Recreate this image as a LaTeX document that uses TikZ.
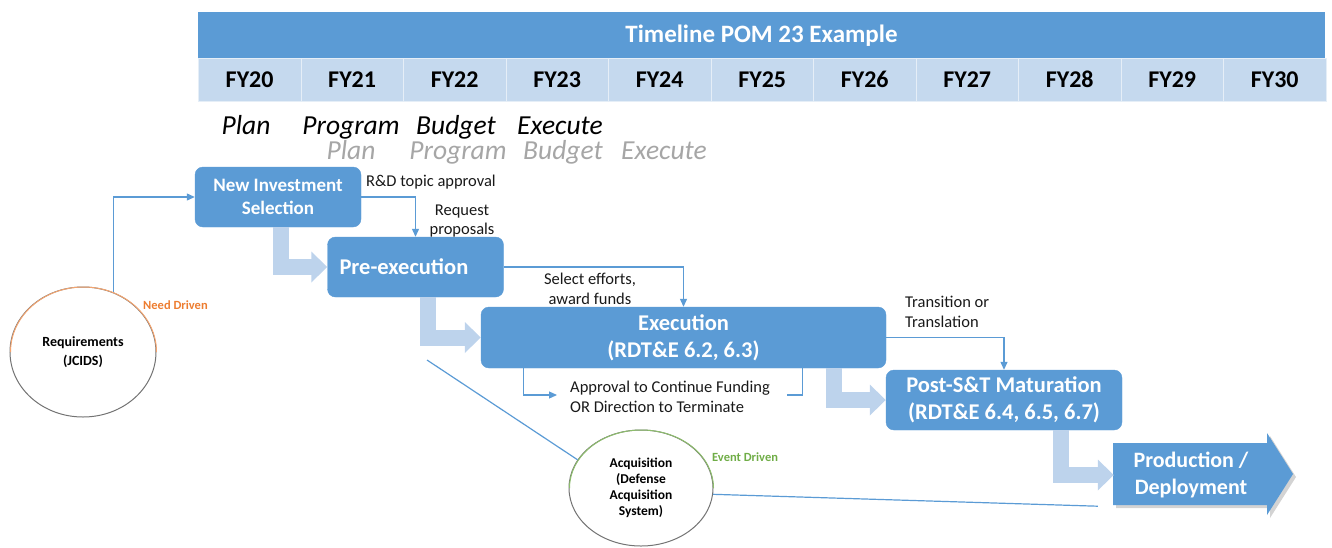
\documentclass[tikz,border=0pt]{standalone}
\usepackage{fontspec}
\setmainfont{Carlito}
\usetikzlibrary{arrows.meta,shadows,shapes.geometric}
\definecolor{mblue}{HTML}{5B9BD5}
\definecolor{lrow}{HTML}{C5D9EE}
\definecolor{lbent}{HTML}{BDD3EC}
\definecolor{gtext}{HTML}{A6A6A6}
\definecolor{ored}{HTML}{ED7D31}
\definecolor{grn}{HTML}{70AD47}
\begin{document}
\begin{tikzpicture}[x=1pt,y=-1pt,
  box/.style={fill=mblue, draw=mblue, rounded corners=8pt, text=white, inner sep=0pt, align=center},
  fycell/.style={fill=lrow, draw=white!55!lrow, line width=0.8pt, anchor=north west, minimum width=102.5, minimum height=43, inner sep=0pt, text height=16pt, text depth=0pt, font=\bfseries\fontsize{24}{28}\selectfont},
  conn/.style={draw=mblue, line width=1.2pt, -{Triangle[length=8pt,width=7pt]}},
  plain/.style={draw=mblue, line width=1.2pt},
  bent/.style={draw=lbent, line width=16pt, line join=miter, -{Triangle[length=16pt,width=30pt]}},
  lbl/.style={font=\fontsize{16.5}{19.5}\selectfont, text=black!90, inner sep=0pt},
  phase/.style={font=\itshape\fontsize{27.5}{32}\selectfont, inner sep=0pt, anchor=base},
  ell/.style={ellipse, draw=black!55, line width=1pt, inner sep=0pt, align=center, fill=white}
]
\useasboundingbox (0,0) rectangle (1332,547);

% header
\node[fill=mblue, anchor=north west, minimum width=1127, minimum height=46, inner sep=0pt] (band) at (198,12) {};
\node[text=white, font=\bfseries\fontsize{25}{29}\selectfont, inner sep=0pt] (title) at (761.5,36) {Timeline POM 23 Example};
\foreach \i/\t in {0/FY20,1/FY21,2/FY22,3/FY23,4/FY24,5/FY25,6/FY26,7/FY27,8/FY28,9/FY29,10/FY30}
  \node[fycell] (fy\i) at (198+102.5*\i,58) {\t};

% phases
\node[phase] (p1) at (246,134) {Plan};
\node[phase] (p2) at (351,134) {Program};
\node[phase] (p3) at (456,134) {Budget};
\node[phase] (p4) at (560,134) {Execute};
\node[phase, text=gtext] (g1) at (351,159) {Plan};
\node[phase, text=gtext] (g2) at (458,159) {Program};
\node[phase, text=gtext] (g3) at (563,159) {Budget};
\node[phase, text=gtext] (g4) at (664,159) {Execute};

% boxes
\node[box, minimum width=166, minimum height=60, font=\bfseries\fontsize{19}{23}\selectfont] (nis) at (278,197) {New Investment\\Selection};
\node[box, minimum width=176, minimum height=60, text width=152, align=left, font=\bfseries\fontsize{22.5}{26}\selectfont] (pre) at (415.5,267) {Pre-execution};
\node[box, minimum width=405, minimum height=61, font=\bfseries\fontsize{22.5}{27}\selectfont] (exec) at (683.5,337.5) {Execution\\(RDT\&E 6.2, 6.3)};
\node[box, minimum width=236, minimum height=60, font=\bfseries\fontsize{22.5}{27}\selectfont] (post) at (1004,400) {Post-S\&T Maturation\\(RDT\&E 6.4, 6.5, 6.7)};

% production arrow
\fill[mblue, drop shadow={shadow xshift=3pt,shadow yshift=-3pt,opacity=0.35}]
  (1113,443) -- (1267,443) -- (1267,433) -- (1293,474) -- (1267,515) -- (1267,505) -- (1113,505) -- cycle;
\node[text=white, align=center, minimum width=154, minimum height=62, inner sep=0pt, font=\bfseries\fontsize{22}{27}\selectfont] (prod) at (1191,475) {Production /\\Deployment};

% ellipses
\node[ell, minimum width=146, minimum height=130, font=\bfseries\fontsize{14}{19}\selectfont] (req) at (83,352) {Requirements\\(JCIDS)};
\draw[ored!70, line width=1pt] (req.east) arc[start angle=0, end angle=-180, x radius=73, y radius=65];
\node[ell, minimum width=144, minimum height=116, font=\bfseries\fontsize{13.5}{16}\selectfont] (acq) at (641,488) {Acquisition\\(Defense\\Acquisition\\System)};
\draw[grn!80, line width=1pt] (acq.east) arc[start angle=0, end angle=-180, x radius=72, y radius=58];

\node[font=\bfseries\fontsize{12.5}{15}\selectfont, text=ored, anchor=west, inner sep=0pt] (need) at (143,305) {Need Driven};
\node[font=\bfseries\fontsize{12.5}{15}\selectfont, text=grn, anchor=west, inner sep=0pt] (event) at (712,457) {Event Driven};

% bent arrows
\draw[bent] ([xshift=3pt]nis.south) |- (pre.west);
\draw[bent] ([xshift=12pt]pre.south) |- (exec.west);
\draw[bent] ([xshift=-52pt]exec.south east) |- (post.west);
\draw[bent] ([xshift=57pt]post.south) |- (prod.west);

% connectors
\draw[conn] (req.63) |- (nis.west);
\draw[conn] (nis.east) -| (pre.north);
\draw[conn] (pre.east) -| (exec.north);
\draw[conn] (exec.east) -| (post.north);
\coordinate (fbL) at (557,395);
\coordinate (fbR) at (787,395);
\draw[conn] ([xshift=43pt]exec.south west) |- (fbL);
\draw[plain] ([xshift=-84pt]exec.south east) |- (fbR);
\coordinate (acqA) at (427,360);
\draw[plain] (acqA) -- (acq.156);
\draw[plain] (acq.-5) -- ([xshift=-16pt]prod.south west);

% labels
\node[lbl, anchor=base west] (lrd) at (366,186) {R\&D topic approval};
\node[lbl, align=center] (lreq) at (462,221) {Request\\proposals};
\node[lbl, align=center] (lsel) at (590,289) {Select efforts,\\award funds};
\node[lbl, align=left, anchor=west] (ltr) at (905,312) {Transition or\\Translation};
\node[lbl, align=left, anchor=west] (lapp) at (570,397) {Approval to Continue Funding\\OR Direction to Terminate};
\end{tikzpicture}
\end{document}
